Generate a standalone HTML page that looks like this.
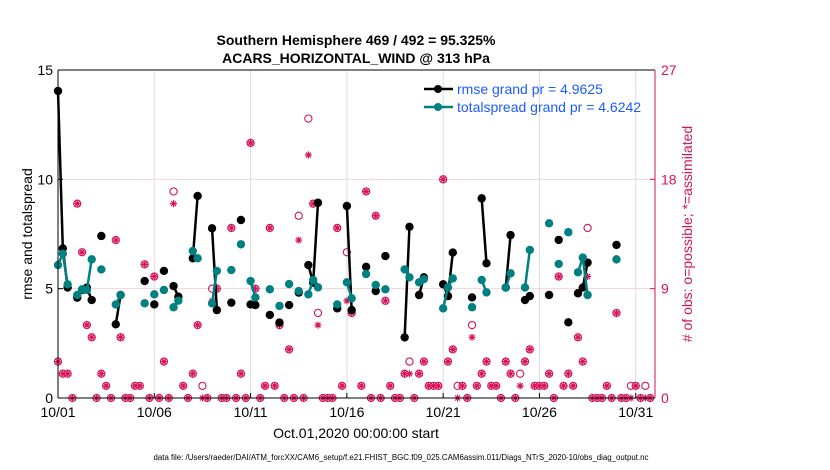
<!DOCTYPE html>
<html><head><meta charset="utf-8"><style>
html,body{margin:0;padding:0;background:#fff;}
svg{display:block;font-family:"Liberation Sans",sans-serif;}
</style></head><body>
<svg id="chart" width="830" height="470" viewBox="0 0 830 470" xmlns="http://www.w3.org/2000/svg">
<g id="grid"></g>
<g id="marks"></g>
<g id="axes"></g>
<text x="356" y="45" text-anchor="middle" font-size="14" font-weight="bold">Southern Hemisphere 469 / 492 = 95.325%</text>
<text x="356" y="63" text-anchor="middle" font-size="14" font-weight="bold">ACARS_HORIZONTAL_WIND @ 313 hPa</text>
<text x="356" y="438" text-anchor="middle" font-size="14">Oct.01,2020 00:00:00 start</text>
<text transform="translate(32,234) rotate(-90)" text-anchor="middle" font-size="14">rmse and totalspread</text>
<text transform="translate(692,234) rotate(-90)" text-anchor="middle" font-size="14" fill="#d6135a"># of obs: o=possible; *=assimilated</text>
<text x="401" y="460" text-anchor="middle" font-size="7.9">data file: /Users/raeder/DAI/ATM_forcXX/CAM6_setup/f.e21.FHIST_BGC.f09_025.CAM6assim.011/Diags_NTrS_2020-10/obs_diag_output.nc</text>
<g>
<line x1="424" y1="89" x2="453" y2="89" stroke="#000" stroke-width="2.5"/>
<circle cx="438" cy="89" r="4" fill="#000"/>
<text x="457" y="94" font-size="14" fill="#1a5cff">rmse grand pr = 4.9625</text>
<line x1="424" y1="107" x2="453" y2="107" stroke="#008080" stroke-width="2.5"/>
<circle cx="438" cy="107" r="4" fill="#008080"/>
<text x="457" y="112" font-size="14" fill="#1a5cff">totalspread grand pr = 4.6242</text>
</g>
</svg>
<script>
const days = [0,0.25,0.5,1,1.25,1.5,1.75,2.25,3,3.25,4.5,5,5.5,6,6.25,7,7.25,8,8.25,9,9.5,10,10.25,11,11.5,12,12.5,13,13.25,13.5,14.5,15,15.25,16,16.5,17,18,18.25,18.75,19,20,20.25,20.5,21.5,22,22.25,23.25,23.5,24.25,24.5,25.5,26,26.5,27,27.25,27.5,29];
const rmse = [14.04,6.84,5.05,4.59,4.94,5.05,4.48,7.41,3.37,4.71,5.35,4.28,5.81,5.12,4.63,6.39,9.24,7.76,4.02,4.36,8.14,4.28,4.25,3.8,3.45,4.25,4.82,6.08,5.27,8.93,4.1,8.78,4.02,6.0,4.89,6.49,2.77,7.83,4.71,5.52,5.2,4.66,6.65,4.6,9.13,6.16,5.05,7.45,4.48,4.66,4.71,7.23,3.46,4.79,5.05,6.19,7.0];
const spread = [6.08,6.6,5.2,4.71,4.97,4.94,6.34,5.88,4.28,4.71,4.33,4.74,4.94,4.15,4.45,6.72,6.39,4.33,5.81,5.85,7.03,5.35,4.6,4.97,4.21,5.21,4.89,4.74,5.4,5.06,4.28,5.29,4.56,5.67,5.17,4.97,5.88,5.52,5.29,5.44,4.1,5.06,5.47,4.15,5.4,4.83,5.05,5.7,5.05,6.77,7.99,6.13,7.58,5.75,6.42,4.71,6.34];
const obsDays = [0,0.25,0.5,0.75,1,1.25,1.5,1.75,2,2.25,2.5,2.75,3,3.25,3.5,3.75,4,4.25,4.5,4.75,5,5.25,5.5,5.75,6,6.5,6.75,7,7.25,7.5,7.75,8,8.25,8.5,8.75,9,9.25,9.5,9.75,10,10.25,10.5,10.75,11,11.25,11.5,11.75,12,12.25,12.5,12.75,13,13.25,13.5,13.75,14,14.25,14.5,14.75,15,15.25,15.75,16,16.25,16.5,16.75,17,17.25,17.5,17.75,18,18.25,18.5,18.75,19,19.25,19.5,19.75,20,20.25,20.5,20.75,21,21.25,21.5,21.75,22,22.25,22.5,22.75,23,23.25,23.5,23.75,24,24.25,24.5,24.75,25,25.25,25.5,25.75,26,26.25,26.5,26.75,27,27.25,27.5,27.75,28,28.25,28.5,28.75,29,29.25,29.5,29.75,30,30.25,30.5,30.75];
const obsPossible = [3,2,2,0,16,12,6,5,0,2,1,0,13,5,0,0,1,1,11,0,10,0,3,0,17,1,0,2,6,1,0,9,9,0,0,14,0,2,0,21,9,0,1,14,1,6,0,4,0,15,0,23,16,7,0,0,0,14,1,12,7,1,17,0,15,0,8,1,0,0,2,3,0,2,3,1,1,1,18,3,4,1,1,0,6,1,2,3,1,1,0,3,2,0,2,3,4,1,1,1,2,0,10,1,2,1,5,3,14,0,0,0,1,0,7,0,0,1,1,0,1,0];
const obsAssim = [3,2,2,0,16,12,6,5,0,2,1,0,13,5,0,0,1,1,11,0,10,0,3,0,16,1,0,2,6,0,0,8,9,0,0,14,0,2,0,21,9,0,1,14,1,6,0,4,0,13,0,20,16,6,0,0,0,14,1,8,7,1,17,0,15,0,8,1,0,0,2,2,0,2,3,1,1,1,18,3,4,0,1,0,5,1,2,3,1,1,0,3,2,0,1,3,4,1,1,1,2,0,10,1,2,1,5,3,10,0,0,0,1,0,7,0,0,0,1,0,0,0];
const xTickLabels = ["10/01","10/06","10/11","10/16","10/21","10/26","10/31"];
const xTickDays = [0,5,10,15,20,25,30];
const yTicks = [0,5,10,15];
const y2Ticks = [0,9,18,27];

const L=58,R=655,T=70,B=398,NS="http://www.w3.org/2000/svg";
const xs=d=>L+(R-L)*d/31;
const ys=v=>B-(B-T)*v/15;
const y2s=v=>B-(B-T)*v/27;
const grid=document.getElementById('grid'),marks=document.getElementById('marks'),axes=document.getElementById('axes');
function mk(tag,attrs,parent){const e=document.createElementNS(NS,tag);for(const k in attrs)e.setAttribute(k,attrs[k]);parent.appendChild(e);return e;}
xTickDays.forEach((d,i)=>{
  const g=mk('line',{x1:xs(d),x2:xs(d),y1:T,y2:B,stroke:'#dcdcdc','stroke-width':1},grid);
  
  
  const t=mk('text',{x:xs(d),y:B+19,'text-anchor':'middle','font-size':14},axes);
  t.textContent=xTickLabels[i];
  
  
  mk('line',{x1:xs(d),x2:xs(d),y1:B,y2:B-5,stroke:'#000'},axes);
});
yTicks.forEach(v=>{
  if(v>0&&v<15){const g=mk('line',{x1:L,x2:R,y1:ys(v),y2:ys(v),stroke:'#f2d4dc','stroke-width':1},grid);
  
  }
  const t=mk('text',{x:L-5,y:ys(v)+5,'text-anchor':'end','font-size':14},axes);
  t.textContent=v;
  
  
  mk('line',{x1:L,x2:L+5,y1:ys(v),y2:ys(v),stroke:'#000'},axes);
});
y2Ticks.forEach(v=>{
  const t=mk('text',{x:R+6,y:y2s(v)+5,'font-size':14,fill:'#d6135a'},axes);
  t.textContent=v;
  
  
  mk('line',{x1:R-5,x2:R,y1:y2s(v),y2:y2s(v),stroke:'#d6135a'},axes);
});
mk('line',{x1:L,x2:R,y1:T,y2:T,stroke:'#000'},axes);
mk('line',{x1:L,x2:R,y1:B,y2:B,stroke:'#000'},axes);
mk('line',{x1:L,x2:L,y1:T,y2:B,stroke:'#000'},axes);
mk('line',{x1:R,x2:R,y1:T,y2:B,stroke:'#d6135a'},axes);
const C='#d6135a';
obsDays.forEach((d,i)=>{
  const x=xs(d),yp=y2s(obsPossible[i]),ya=y2s(obsAssim[i]);
  const c=mk('circle',{cx:x,cy:yp,r:3.6,fill:'none',stroke:C,'stroke-width':1.1},marks);
  
  
  const a=mk('path',{d:`M${x-3.5},${ya}H${x+3.5}M${x},${ya-3.5}V${ya+3.5}M${x-2.5},${ya-2.5}L${x+2.5},${ya+2.5}M${x-2.5},${ya+2.5}L${x+2.5},${ya-2.5}`,stroke:C,'stroke-width':1.2},marks);
  
  
});
function series(vals,color,name){
  for(let i=1;i<days.length;i++){
    if(Math.abs(days[i]-days[i-1]-0.25)<1e-6){
      const l=mk('line',{x1:xs(days[i-1]),y1:ys(vals[i-1]),x2:xs(days[i]),y2:ys(vals[i]),stroke:color,'stroke-width':2.5},marks);
      
      
    }
  }
  days.forEach((d,i)=>{
    const p=mk('circle',{cx:xs(d),cy:ys(vals[i]),r:4.2,fill:color},marks);
    
    
  });
}
series(rmse,'#000','rmse');
series(spread,'#008080','totalspread');
</script>
</body></html>
